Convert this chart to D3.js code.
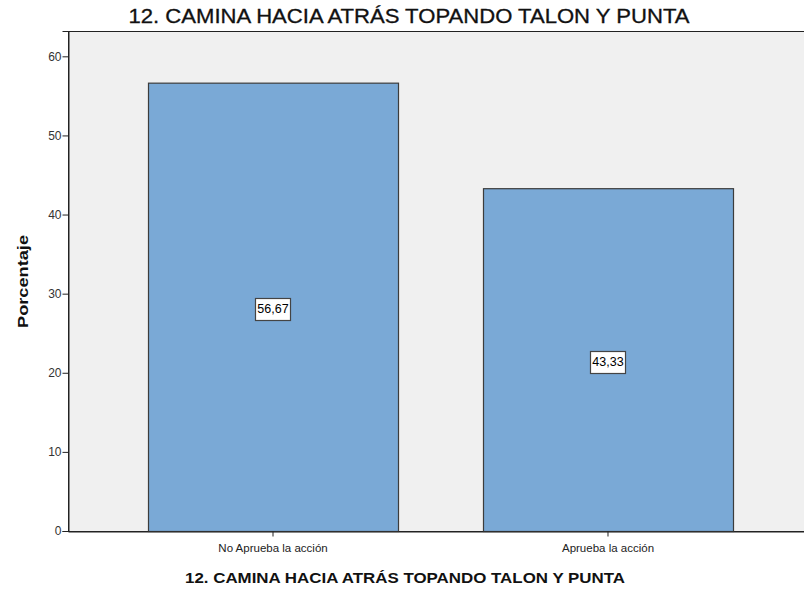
<!DOCTYPE html>
<html><head><meta charset="utf-8">
<script src="https://cdn.jsdelivr.net/npm/d3@7"></script>
<style>body{margin:0;background:#fff}svg{display:block}</style>
</head><body>
<script>
const categories = ["No Aprueba la acción", "Aprueba la acción"];
const values = [56.67, 43.33];
const valueLabels = ["56,67", "43,33"];
const yTicks = [0, 10, 20, 30, 40, 50, 60];
const title = "12. CAMINA HACIA ATRÁS TOPANDO TALON Y PUNTA";
const yTitle = "Porcentaje";

(function () {
const W = 804, H = 590;
const FONT = "Arial, 'Liberation Sans', sans-serif";
const svg = d3.select("body").append("svg").attr("width", W).attr("height", H);
const pLeft = 68, pRight = 813, pTop = 31, pBottom = 531;

const y = d3.scaleLinear().domain([0, 63.2]).range([pBottom, pTop]);
const x = d3.scaleBand().domain(categories).range([pLeft, pRight]).paddingInner(0.2537).paddingOuter(0.2388);

svg.append("rect").attr("x", pLeft + 0.5).attr("y", pTop + 0.5).attr("width", pRight - pLeft).attr("height", pBottom - pTop)
  .attr("fill", "#f0f0f0").attr("stroke", "#222").attr("stroke-width", 1);

svg.selectAll("rect.bar").data(values).join("rect").attr("class", "bar")
  .attr("x", (d, i) => x(categories[i]) + 0.5)
  .attr("y", d => y(d) + 0.5)
  .attr("width", x.bandwidth())
  .attr("height", d => pBottom - y(d))
  .attr("fill", "#7aa9d6").attr("stroke", "#3c3c3c").attr("stroke-width", 1.2);

values.forEach((d, i) => {
  const cx = x(categories[i]) + x.bandwidth() / 2;
  const cy = (y(d) + pBottom) / 2 + 2;
  const g = svg.append("g");
  const t = g.append("text").attr("x", cx).attr("y", cy + 4.5).attr("text-anchor", "middle")
    .attr("font-family", FONT).attr("font-size", 12.5).attr("fill", "#000")
    .text(valueLabels[i]);
  const bb = t.node().getBBox();
  g.insert("rect", "text").attr("x", Math.round(bb.x - 2) + 0.5).attr("y", Math.round(cy - 11) + 0.5)
    .attr("width", Math.round(bb.width + 4)).attr("height", 22).attr("fill", "#fff").attr("stroke", "#444").attr("stroke-width", 1.2);
});

const yAxis = svg.append("g").attr("transform", `translate(${pLeft + 0.5},0)`)
  .call(d3.axisLeft(y).tickValues(yTicks).tickSize(6).tickFormat(d3.format("d")));
yAxis.select(".domain").attr("stroke", "#222");
yAxis.selectAll(".tick line").attr("stroke", "#222");
yAxis.selectAll("text").attr("font-family", FONT).attr("font-size", 12).attr("fill", "#333").attr("x", -7);

const xAxis = svg.append("g").attr("transform", `translate(0,${pBottom + 0.5})`)
  .call(d3.axisBottom(x).tickSize(5).tickSizeOuter(0));
xAxis.select(".domain").attr("stroke", "#222");
xAxis.selectAll(".tick line").attr("stroke", "#222");
xAxis.selectAll("text").attr("font-family", FONT).attr("font-size", 11.5).attr("fill", "#222").attr("dy", "1.05em");

svg.append("text").attr("x", 409).attr("y", 23).attr("text-anchor", "middle")
  .attr("font-family", FONT).attr("font-weight", "normal").attr("font-size", 20).attr("fill", "#111")
  .attr("stroke", "#111").attr("stroke-width", 0.3)
  .attr("textLength", 561).attr("lengthAdjust", "spacingAndGlyphs").text(title);
svg.append("text").attr("x", 405).attr("y", 583).attr("text-anchor", "middle")
  .attr("font-family", FONT).attr("font-weight", "bold").attr("font-size", 15.5).attr("fill", "#111")
  .attr("textLength", 440).attr("lengthAdjust", "spacingAndGlyphs").text(title);
svg.append("text").attr("transform", "translate(28,281.5) rotate(-90)").attr("text-anchor", "middle")
  .attr("font-family", FONT).attr("font-weight", "bold").attr("font-size", 14).attr("fill", "#111")
  .attr("textLength", 93).attr("lengthAdjust", "spacingAndGlyphs").text(yTitle);
})();
</script>
</body></html>
